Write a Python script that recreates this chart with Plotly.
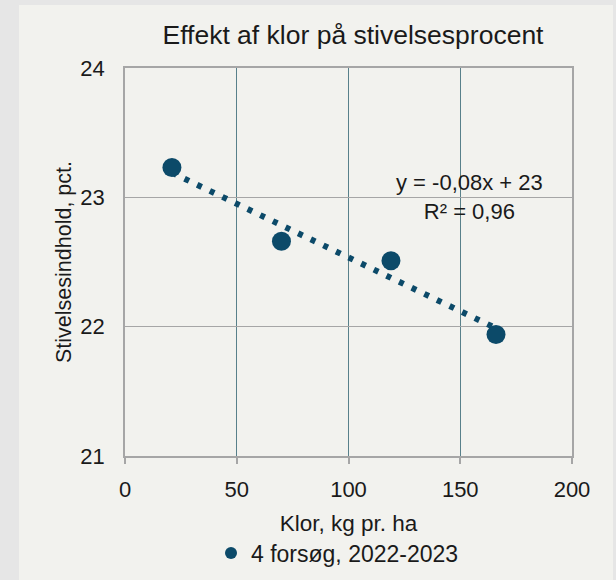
import numpy as np
import plotly.graph_objects as go

# Data
klor = [21, 70, 119, 166]
stivelse = [23.23, 22.66, 22.51, 21.94]
series_name = "4 forsøg, 2022-2023"
x_ticks = [0, 50, 100, 150, 200]
y_ticks = [21, 22, 23, 24]
eq_text = "y = -0,08x + 23<br>R² = 0,96"

NAVY = "#0c4a69"
FONT = "Liberation Sans, Arial, sans-serif"

# Linear trend line computed from the data
coef = np.polyfit(klor, stivelse, 1)
tx = np.array([min(klor), max(klor)])
ty = np.polyval(coef, tx)

fig = go.Figure()
fig.add_trace(go.Scatter(
    x=tx, y=ty, mode="lines", showlegend=False, hoverinfo="skip",
    line=dict(color=NAVY, width=6, dash="5px,9px"),
))
fig.add_trace(go.Scatter(
    x=klor, y=stivelse, mode="markers", name=series_name,
    marker=dict(color=NAVY, size=19),
))

# plot area in pixels: left 125, right 572, top 68, bottom 456
L, R, T, B = 125, 572, 68, 456
W, H = 616, 580
pw, ph = R - L, B - T
def fx(px):
    return (px - L) / pw
def fy(py):
    return (B - py) / ph

OUTER = "#e6e6e6"
shapes = [
    dict(type="rect", xref="paper", yref="paper", x0=fx(0), x1=fx(19), y0=fy(H), y1=fy(0),
         fillcolor=OUTER, line_width=0, layer="below"),
    dict(type="rect", xref="paper", yref="paper", x0=fx(0), x1=fx(W), y0=fy(5), y1=fy(0),
         fillcolor=OUTER, line_width=0, layer="below"),
    dict(type="rect", xref="paper", yref="paper", x0=fx(613), x1=fx(W), y0=fy(H), y1=fy(0),
         fillcolor=OUTER, line_width=0, layer="below"),
]

fig.update_layout(
    width=W, height=H,
    margin=dict(l=L, r=W - R, t=T, b=H - B, pad=0, autoexpand=False),
    paper_bgcolor="#f2f2ee", plot_bgcolor="#f2f2ee",
    font=dict(family=FONT, color="#1a1a1a", size=22),
    title=dict(text="Effekt af klor på stivelsesprocent", x=fx(353), xanchor="center",
               xref="paper", y=1 - 35 / H, yanchor="middle", font=dict(size=26.5)),
    shapes=shapes,
    showlegend=True,
    legend=dict(orientation="h", x=fx(211), xanchor="left", y=fy(553), yanchor="middle",
                font=dict(size=23), bgcolor="rgba(0,0,0,0)", itemsizing="constant"),
    annotations=[dict(text=eq_text, xref="x", yref="y", x=154, y=23.0, showarrow=False,
                      font=dict(size=22), align="center")],
)
fig.update_xaxes(
    range=[0, 200], tickvals=x_ticks, ticktext=[str(v) for v in x_ticks],
    showgrid=True, gridcolor="#58808a", gridwidth=1,
    showline=True, linecolor="#a6a6a6", linewidth=1.5, mirror=True,
    ticks="outside", ticklen=6, tickcolor="#a6a6a6", tickwidth=1.5,
    zeroline=False, ticklabelstandoff=7, tickfont=dict(size=22), automargin=False,
    title=dict(text="Klor, kg pr. ha", standoff=14, font=dict(size=22.5)),
)
fig.update_yaxes(
    range=[21, 24], tickvals=y_ticks, ticktext=[str(v) for v in y_ticks],
    showgrid=True, gridcolor="#a6a6a6", gridwidth=1,
    showline=True, linecolor="#a6a6a6", linewidth=1.5, mirror=True,
    ticks="", zeroline=False, ticklabelstandoff=14, tickfont=dict(size=22), automargin=False,
    title=dict(text="Stivelsesindhold, pct.", standoff=3, font=dict(size=21.5)),
)

fig.write_html("out.html", config={"displayModeBar": False},
               post_script="document.body.style.margin='0';")
